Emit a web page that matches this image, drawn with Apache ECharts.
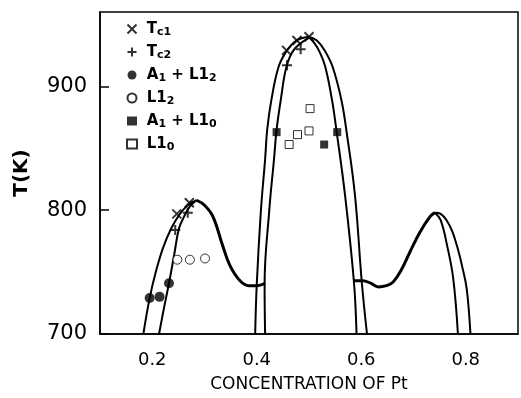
<!DOCTYPE html>
<html>
<head>
<meta charset="utf-8">
<script src="https://cdn.jsdelivr.net/npm/echarts@6/dist/echarts.min.js"></script>
<style>
html,body{margin:0;padding:0;background:#fff;}
#main{width:521px;height:398px;}
</style>
</head>
<body>
<div id="main"></div>
<script>
// 相界曲线 (x = Pt 浓度, y = T(K))
var leftOuter = [[0.183,700],[0.195,729],[0.208,752],[0.221,770],[0.236,785],[0.253,797],[0.268,804],[0.285,808]];
var leftInner = [[0.213,700],[0.222,720],[0.232,741],[0.242,764],[0.251,785],[0.260,794],[0.272,803],[0.285,808]];
var leftDown = [[0.285,808],[0.300,804],[0.316,795],[0.335,771],[0.349,755],[0.368,743],[0.385,739],[0.400,739],[0.416,741]];
var midOuterL = [[0.397,700],[0.400,740],[0.408,800],[0.416,841],[0.420,865],[0.428,889],[0.442,916],[0.458,929],[0.476,937],[0.499,940]];
var midInnerL = [[0.416,700],[0.415,740],[0.424,800],[0.433,841],[0.438,865],[0.446,889],[0.457,916],[0.472,930],[0.499,939]];
var midInnerR = [[0.499,940],[0.510,935],[0.520,928],[0.531,916],[0.544,889],[0.553,863],[0.569,812],[0.586,742],[0.591,700]];
var midOuterR = [[0.499,940],[0.515,937],[0.530,929],[0.545,916],[0.562,889],[0.572,863],[0.588,812],[0.601,742],[0.611,700]];
var rightUp = [[0.586,743],[0.603,743],[0.618,741],[0.633,738],[0.648,739],[0.661,742],[0.677,752],[0.693,766],[0.712,782],[0.732,795],[0.741,798]];
var rightInner = [[0.741,798],[0.752,792],[0.764,772],[0.776,745],[0.785,700]];
var rightOuter = [[0.741,798],[0.752,797],[0.763,792],[0.774,783],[0.784,770],[0.794,753],[0.802,736],[0.809,700]];

// 数据点
var tc1 = [[0.247,797],[0.271,806],[0.457,929],[0.477,937],[0.500,940]];
var tc2 = [[0.244,784],[0.268,798],[0.458,917],[0.484,930]];
var a1L12 = [[0.195,729],[0.214,730],[0.232,741]];
var l12 = [[0.248,760],[0.272,760],[0.301,761]];
var a1L10 = [[0.438,863],[0.554,863],[0.529,853]];
var l10 = [[0.502,882],[0.500,864],[0.478,861],[0.462,853]];

var xTicks = [0.2,0.4,0.6,0.8];
var yTicks = [700,800,900];

var font = 'DejaVu Sans';
var chart = echarts.init(document.getElementById('main'));

function curve(d, w){
	return {
		type:'line',
		data:d,
		smooth:0.4,
		symbol:'none',
		silent:true,
		lineStyle:{color:'#000',width:w||2},
		z:2
	};
}

var legendNames = ['Tc1','Tc2','A1+L12','L12','A1+L10','L10'];
var legendRich = {
	'Tc1':' {m|T}{s|c1}',
	'Tc2':' {m|T}{s|c2}',
	'A1+L12':' {m|A}{s|1}{m| + L1}{s|2}',
	'L12':' {m|L1}{s|2}',
	'A1+L10':' {m|A}{s|1}{m| + L1}{s|0}',
	'L10':' {m|L1}{s|0}'
};

var option = {
	animation:false,
	backgroundColor:'#fff',
	grid:{
		left:100,
		right:3,
		top:12,
		bottom:62,
		show:true,
		borderColor:'#000',
		borderWidth:1.5
	},
	legend:{
		data:legendNames,
		orient:'vertical',
		left:120,
		top:15,
		itemWidth:10,
		itemHeight:9,
		itemGap:5,
		formatter:function(n){ return legendRich[n]; },
		textStyle:{
			fontFamily:font,
			fontSize:15,
			color:'#000',
			lineHeight:18,
			rich:{
				m:{fontSize:15,lineHeight:18,fontFamily:font,fontWeight:'bold',color:'#000'},
				s:{fontSize:11,lineHeight:18,fontFamily:font,fontWeight:'bold',color:'#000',padding:[6,0,0,0]}
			}
		}
	},
	xAxis:{
		type:'value',
		min:0.1,
		max:0.9,
		interval:0.1,
		name:'CONCENTRATION OF Pt',
		nameLocation:'middle',
		nameGap:42,
		nameTextStyle:{fontFamily:font,fontSize:17,color:'#000'},
		axisLine:{show:true,lineStyle:{color:'#000',width:1.5}},
		axisTick:{show:false},
		splitLine:{show:false},
		axisLabel:{
			margin:17,
			fontFamily:font,
			fontSize:18,
			color:'#000',
			formatter:function(v){
				for(var i=0;i<xTicks.length;i++){
					if(Math.abs(v-xTicks[i])<1e-6) return xTicks[i].toFixed(1);
				}
				return '';
			}
		}
	},
	yAxis:{
		type:'value',
		min:700,
		max:960,
		interval:100,
		name:'T(K)',
		nameLocation:'middle',
		nameGap:68,
		nameTextStyle:{fontFamily:font,fontSize:20,fontWeight:'bold',color:'#000'},
		axisLine:{show:true,lineStyle:{color:'#000',width:1.5}},
		axisTick:{show:true,inside:true,length:9,lineStyle:{color:'#000',width:1.5}},
		splitLine:{show:false},
		axisLabel:{
			margin:13,
			fontFamily:font,
			fontSize:21,
			color:'#000',
			showMaxLabel:false,
			formatter:function(v){ return yTicks.indexOf(v)>=0 ? String(v) : ''; }
		}
	},
	series:[
		curve(leftOuter),
		curve(leftInner),
		curve(leftDown,3),
		curve(midOuterL),
		curve(midInnerL),
		curve(midInnerR),
		curve(midOuterR),
		curve(rightUp,3),
		curve(rightInner),
		curve(rightOuter),
		{
			name:'Tc1',type:'scatter',data:tc1,
			symbol:'path://M0,0L10,10M10,0L0,10',symbolSize:9,
			itemStyle:{color:'none',borderColor:'#000',borderWidth:2},z:5
		},
		{
			name:'Tc2',type:'scatter',data:tc2,
			symbol:'path://M5,0L5,10M0,5L10,5',symbolSize:10,
			itemStyle:{color:'none',borderColor:'#000',borderWidth:2},z:5
		},
		{
			name:'A1+L12',type:'scatter',data:a1L12,
			symbol:'circle',symbolSize:10,
			itemStyle:{color:'#000'},z:5
		},
		{
			name:'L12',type:'scatter',data:l12,
			symbol:'circle',symbolSize:9,
			itemStyle:{color:'#fff',borderColor:'#000',borderWidth:1},z:5
		},
		{
			name:'A1+L10',type:'scatter',data:a1L10,
			symbol:'rect',symbolSize:8,
			itemStyle:{color:'#000'},z:5
		},
		{
			name:'L10',type:'scatter',data:l10,
			symbol:'rect',symbolSize:8,
			itemStyle:{color:'#fff',borderColor:'#000',borderWidth:1},z:5
		}
	]
};
chart.setOption(option);
</script>
</body>
</html>
